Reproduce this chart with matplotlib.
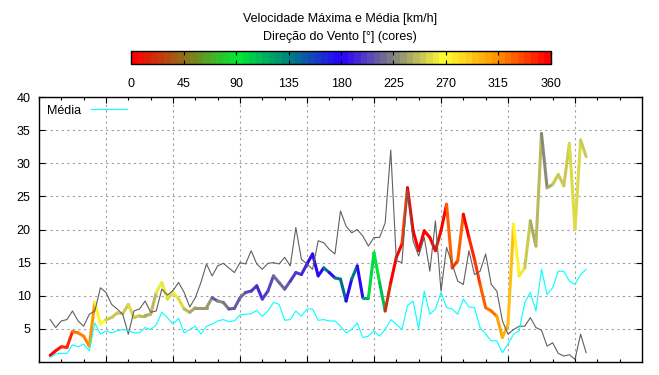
import numpy as np
import matplotlib
matplotlib.use('Agg')
import matplotlib.pyplot as plt
from matplotlib.collections import LineCollection
from matplotlib.colors import LinearSegmentedColormap, Normalize
from matplotlib.cm import ScalarMappable

plt.rcParams['font.family'] = ['Liberation Sans', 'DejaVu Sans']
plt.rcParams['font.size'] = 9

# leituras a cada 15 min (horas)
horas = np.arange(97) * 0.25 + 0.5

vel_max = [1.0, 1.7, 2.3, 2.2, 4.6, 4.4, 3.9, 2.4, 9.0, 5.7,
           6.4, 6.7, 7.4, 7.3, 8.7, 6.7, 7.0, 7.0, 7.2, 10.5,
           12.0, 9.5, 10.5, 9.5, 8.0, 7.5, 8.2, 8.2, 8.2, 9.7,
           9.2, 9.0, 8.0, 8.1, 9.7, 10.5, 10.7, 11.5, 9.5, 10.7,
           13.0, 12.0, 11.0, 12.2, 13.5, 13.2, 14.8, 16.3, 13.0, 14.2,
           13.5, 12.7, 12.5, 9.2, 12.5, 14.5, 9.7, 9.7, 16.5, 12.0,
           7.7, 12.0, 15.8, 17.8, 26.3, 19.8, 16.8, 19.8, 18.8, 16.8,
           19.8, 23.8, 14.2, 15.3, 22.3, 18.8, 15.5, 11.7, 8.2, 7.7,
           6.9, 3.7, 5.7, 20.8, 13.0, 14.2, 21.3, 17.5, 34.5, 26.3,
           26.8, 28.3, 26.6, 33.0, 20.0, 33.5, 31.0]

direcao = [355, 352, 348, 348, 322, 320, 318, 310, 272, 268,
           252, 250, 248, 250, 258, 248, 245, 240, 245, 262,
           262, 258, 262, 258, 245, 240, 235, 235, 232, 212,
           225, 222, 210, 210, 215, 203, 202, 195, 200, 203,
           215, 218, 210, 202, 200, 195, 185, 185, 182, 145,
           180, 140, 145, 178, 140, 180, 120, 100, 95, 110,
           20, 5, 5, 340, 0, 358, 0, 355, 0, 10,
           0, 330, 340, 330, 355, 345, 340, 330, 325, 325,
           305, 300, 295, 272, 262, 250, 240, 245, 228, 240,
           248, 250, 252, 255, 258, 250, 248]

vel_media = [0.7, 1.2, 1.3, 1.3, 2.6, 2.3, 2.7, 1.7, 5.9, 4.2,
             4.7, 4.4, 4.7, 4.9, 4.7, 4.4, 4.4, 5.2, 4.9, 5.6,
             7.5, 6.7, 5.7, 6.6, 4.4, 4.9, 5.4, 4.2, 5.4, 5.7,
             6.2, 6.4, 6.1, 6.2, 7.1, 7.2, 7.3, 7.8, 6.9, 7.7,
             9.0, 8.7, 6.3, 6.4, 7.7, 6.9, 8.0, 8.0, 6.3, 6.4,
             6.2, 6.2, 5.4, 4.4, 4.9, 5.9, 3.7, 3.9, 4.7, 3.9,
             4.9, 6.4, 5.7, 4.9, 8.5, 9.2, 5.0, 10.7, 7.2, 8.0,
             10.5, 8.2, 8.0, 7.2, 9.5, 8.3, 8.2, 5.2, 4.2, 3.2,
             3.2, 1.4, 2.7, 4.2, 4.7, 9.0, 10.5, 7.7, 14.0, 10.2,
             11.2, 13.7, 13.7, 12.2, 11.7, 13.2, 14.0]

vel_cinza = [6.4, 5.2, 6.2, 6.4, 7.7, 6.2, 5.4, 7.2, 7.7, 11.2,
             10.5, 8.7, 8.0, 7.2, 4.2, 7.7, 8.0, 9.2, 7.5, 7.7,
             11.0, 10.1, 10.8, 12.0, 10.5, 8.3, 9.7, 12.0, 14.8, 13.0,
             14.5, 14.9, 14.2, 13.5, 15.0, 14.8, 16.8, 14.8, 14.0, 14.9,
             15.0, 14.8, 15.8, 14.5, 20.3, 15.5, 14.8, 14.0, 18.3, 18.0,
             17.0, 16.3, 22.8, 20.5, 19.5, 20.0, 19.0, 17.5, 18.8, 18.8,
             21.0, 32.0, 15.3, 15.0, 26.1, 18.3, 16.0, 18.8, 13.7, 21.3,
             10.7, 17.3, 14.8, 12.2, 11.7, 16.8, 13.2, 13.7, 16.3, 11.7,
             10.7, 6.2, 4.2, 4.9, 5.4, 5.4, 6.7, 5.2, 4.8, 2.4,
             2.9, 1.3, 0.9, 1.1, 0.4, 4.2, 1.4]

# paleta da direção (graus)
paleta = LinearSegmentedColormap.from_list('vento', [
    (0 / 360, (1.0, 0.0, 0.0)),
    (45 / 360, (0.55, 0.45, 0.10)),
    (90 / 360, (0.0, 0.92, 0.20)),
    (135 / 360, (0.0, 0.50, 0.50)),
    (180 / 360, (0.16, 0.0, 1.0)),
    (225 / 360, (0.50, 0.50, 0.50)),
    (270 / 360, (1.0, 1.0, 0.20)),
    (315 / 360, (1.0, 0.58, 0.0)),
    (360 / 360, (1.0, 0.0, 0.0)),
], N=64)
norma = Normalize(0, 360)

fig = plt.figure(figsize=(6.59, 3.75), dpi=100)
ax = fig.add_axes([39 / 659, 13 / 375, 603 / 659, 265 / 375])

pts = np.column_stack([horas, vel_max])
segs = np.stack([pts[:-1], pts[1:]], axis=1)
lc = LineCollection(segs, cmap=paleta, norm=norma, linewidths=2.2,
                    capstyle='round', joinstyle='round', zorder=3)
lc.set_array(np.array(direcao[:-1], dtype=float))
ax.add_collection(lc)

ax.plot(horas, vel_cinza, color='#606060', lw=0.8, zorder=4)
ax.plot(horas, vel_media, color='#00ffff', lw=0.8, zorder=5, label='Média')

ax.set_xlim(0, 27)
ax.set_ylim(0, 40)
ax.set_xticks(np.arange(3, 27, 3))
ax.set_xticks(np.arange(0, 28, 1), minor=True)
ax.set_xticklabels([])
ax.set_yticks(np.arange(5, 41, 5))
ax.tick_params(axis='both', which='both', direction='in', top=True, right=True)
ax.tick_params(axis='both', which='major', length=4.5, width=0.8)
ax.tick_params(axis='x', which='minor', length=2.5, width=0.8)
ax.tick_params(axis='y', pad=6, labelsize=9)
ax.grid(True, which='major', color='#a0a0a0', linestyle=(0, (2, 3)), linewidth=0.8)
for s in ax.spines.values():
    s.set_linewidth(1.0)

leg = ax.legend(loc='upper left', frameon=False, markerfirst=False,
                handlelength=2.9, handletextpad=0.8, borderaxespad=0.2,
                fontsize=9)

fig.text(340 / 659, 1 - 19 / 375, 'Velocidade Máxima e Média [km/h]',
         ha='center', va='center', fontsize=9)
fig.text(340 / 659, 1 - 37 / 375, 'Direção do Vento [°] (cores)',
         ha='center', va='center', fontsize=9)

cax = fig.add_axes([131.3 / 659, (375 - 64.3) / 375, 419.4 / 659, 13.3 / 375])
cb = fig.colorbar(ScalarMappable(norm=norma, cmap=paleta), cax=cax,
                  orientation='horizontal')
cb.set_ticks(np.arange(0, 361, 45))
cax.tick_params(direction='in', length=3, width=0.8, top=True, bottom=True,
                pad=10, labelsize=9)
cb.outline.set_linewidth(1.0)

fig.savefig('out.png', dpi=100)
